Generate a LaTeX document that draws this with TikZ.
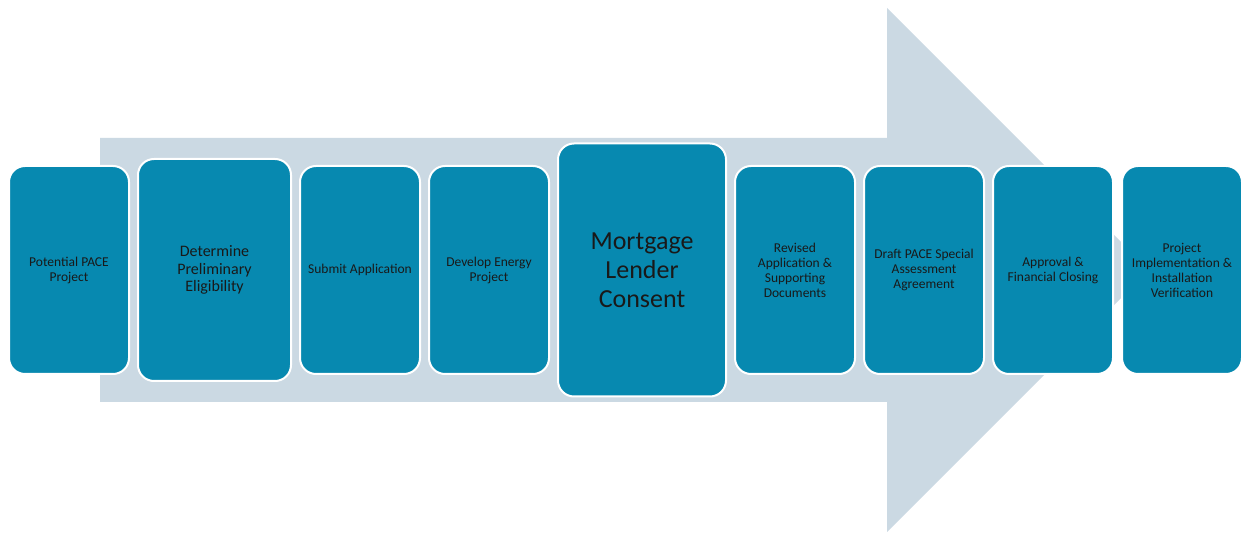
\documentclass[tikz,border=0pt]{standalone}
\usepackage{fontspec}
\setmainfont{Carlito}
\usetikzlibrary{positioning}
\definecolor{nuoli}{RGB}{203,217,227}
\definecolor{laatikko}{RGB}{7,137,176}

\begin{document}
\begin{tikzpicture} [x=1pt, y=1pt, node distance=7pt,
                    askel/.style={rectangle,rounded corners=16pt,draw=white,line width=2pt,
                    fill=laatikko,minimum width=120pt,minimum height=208pt,inner sep=3pt,
                    align=center,text=black!90,font=\fontsize{13.5}{15}\selectfont}]

\useasboundingbox (0,0) rectangle (1243,533);

% the big arrow behind the steps
\fill[nuoli] (100,131) -- (887,131) -- (887,1) -- (1149,263) -- (887,525)
    -- (887,395) -- (100,395) -- cycle;

\node[askel] (1) at (69,263) {Potential PACE\\Project};
\node[askel, minimum width=153pt, minimum height=222pt,
      font=\fontsize{16}{17.5}\selectfont] (2) [right=of 1] {Determine\\Preliminary\\Eligibility};
\node[askel] (3) [right=of 2] {Submit Application};
\node[askel] (4) [right=of 3] {Develop Energy\\Project};
\node[askel, minimum width=168pt, minimum height=253pt,
      font=\fontsize{26}{29}\selectfont] (5) [right=of 4] {Mortgage\\Lender\\Consent};
\node[askel] (6) [right=of 5] {Revised\\Application \&\\Supporting\\Documents};
\node[askel] (7) [right=of 6] {Draft PACE Special\\Assessment\\Agreement};
\node[askel] (8) [right=of 7] {Approval \&\\Financial Closing};
\node[askel] (9) [right=of 8] {Project\\Implementation \&\\Installation\\Verification};
\end{tikzpicture}
\end{document}
